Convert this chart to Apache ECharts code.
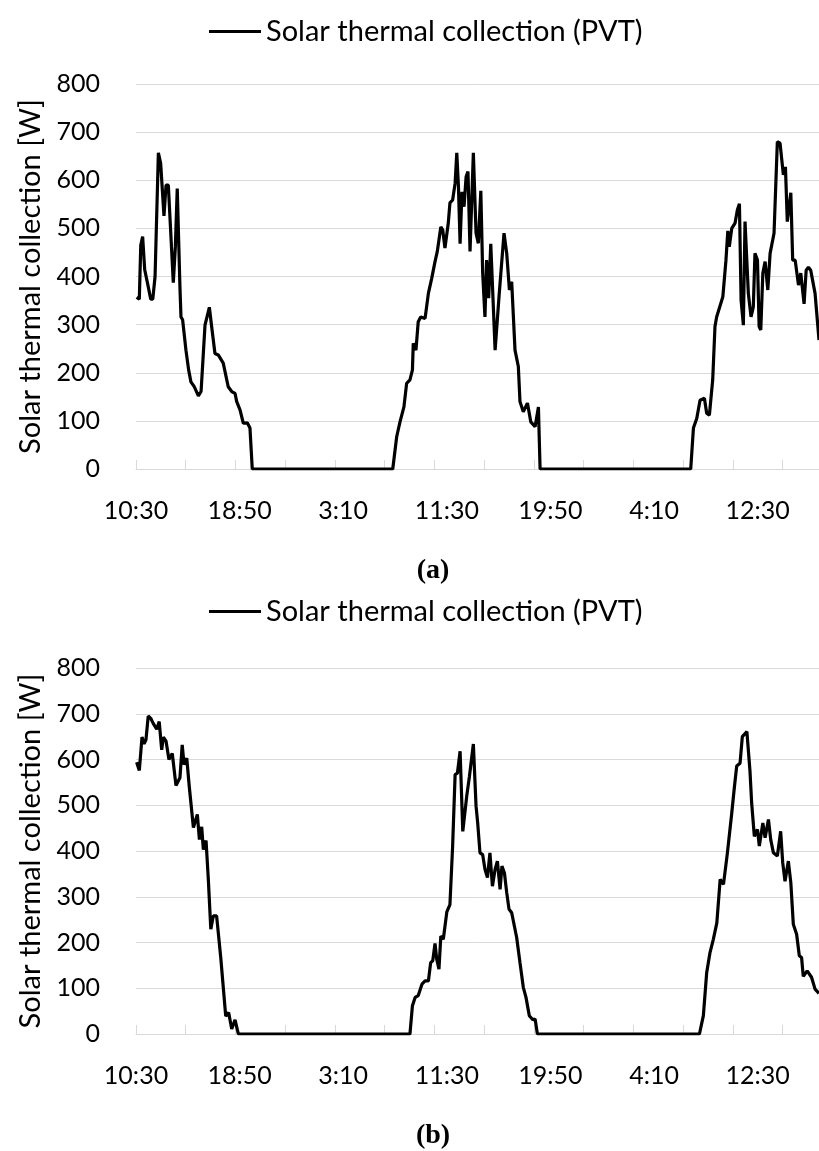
<!DOCTYPE html>
<html>
<head>
<meta charset="utf-8">
<script src="https://cdn.jsdelivr.net/npm/echarts@6/dist/echarts.min.js"></script>
<style>
html, body { margin: 0; padding: 0; background: #fff; }
#main { width: 819px; height: 1151px; }
</style>
</head>
<body>
<div id="main"></div>
<script>
// x = minutes after 10:30 on the first day, 10 min logging
var labelTimes = ['10:30', '18:50', '3:10', '11:30', '19:50', '4:10', '12:30'];
var labelStep = 500;
var tickStep = 240;
var xMax = 3296;
var seriesName = 'Solar thermal collection (PVT)';

// (a)
var minutesA = [3, 16, 23, 32, 42, 59, 71, 81, 92, 108, 119, 135, 145, 156, 180, 190, 199, 212, 217, 225,
  241, 254, 265, 281, 301, 314, 333, 354, 365, 381, 397, 421, 445, 462, 478, 486, 502, 518, 537, 550,
  561, 1239, 1258, 1274, 1293, 1306, 1322, 1334, 1338, 1351, 1362, 1374, 1395, 1411, 1427, 1443, 1454, 1471, 1480, 1491,
  1507, 1515, 1528, 1540, 1548, 1556, 1564, 1573, 1583, 1593, 1602, 1612, 1628, 1641, 1652, 1664, 1673, 1684, 1692, 1702,
  1712, 1733, 1753, 1776, 1789, 1802, 1813, 1829, 1845, 1853, 1869, 1889, 1905, 1926, 1942, 1950, 2677, 2690, 2706, 2722,
  2743, 2754, 2767, 2783, 2794, 2802, 2832, 2847, 2856, 2863, 2875, 2891, 2902, 2912, 2920, 2931, 2939, 2955, 2968, 2979,
  2987, 2999, 3007, 3015, 3025, 3036, 3049, 3060, 3079, 3095, 3108, 3124, 3134, 3143, 3160, 3169, 3181, 3197, 3208, 3224,
  3234, 3245, 3256, 3277, 3296];
var valuesA = [357, 353, 465, 483, 414, 379, 353, 353, 400, 657, 635, 526, 590, 590, 387, 462, 583, 379, 316, 310,
  247, 206, 181, 171, 152, 161, 299, 336, 296, 240, 237, 220, 171, 161, 157, 140, 123, 95, 96, 85,
  0, 0, 67, 98, 129, 178, 185, 206, 261, 247, 306, 316, 313, 365, 396, 431, 452, 503, 497, 459,
  511, 553, 559, 594, 657, 587, 468, 576, 545, 607, 618, 452, 657, 490, 469, 578, 407, 316, 434, 355,
  468, 247, 365, 490, 448, 372, 389, 247, 213, 140, 119, 137, 98, 88, 129, 0, 0, 85, 105, 143,
  147, 116, 112, 185, 296, 316, 358, 434, 495, 462, 500, 511, 538, 551, 351, 299, 514, 365, 316, 337,
  448, 434, 296, 289, 407, 431, 372, 448, 490, 680, 677, 611, 628, 514, 574, 434, 434, 382, 407, 343,
  413, 419, 413, 365, 268];

// (b)
var minutesB = [3, 16, 29, 39, 48, 59, 71, 83, 100, 112, 124, 132, 145, 159, 175, 193, 212, 223, 232, 245,
  257, 277, 296, 306, 317, 325, 338, 349, 361, 373, 389, 397, 409, 418, 433, 447, 462, 478, 494, 1322,
  1334, 1347, 1362, 1380, 1395, 1411, 1422, 1432, 1443, 1451, 1462, 1471, 1483, 1500, 1515, 1528, 1540, 1551, 1564, 1577,
  1584, 1596, 1609, 1617, 1628, 1641, 1649, 1660, 1673, 1684, 1696, 1708, 1720, 1733, 1744, 1757, 1766, 1778, 1789, 1800,
  1813, 1837, 1853, 1869, 1882, 1898, 1915, 1926, 1937, 2719, 2738, 2754, 2770, 2786, 2803, 2819, 2835, 2854, 2875, 2888,
  2899, 2915, 2926, 2948, 2963, 2971, 2984, 2999, 3008, 3025, 3036, 3052, 3063, 3076, 3095, 3111, 3121, 3132, 3148, 3160,
  3172, 3188, 3201, 3212, 3220, 3239, 3260, 3277, 3296];
var valuesB = [594, 576, 649, 634, 643, 695, 690, 679, 666, 683, 621, 649, 640, 600, 613, 543, 560, 632, 589, 603,
  541, 451, 480, 425, 453, 403, 423, 338, 229, 258, 258, 262, 167, 164, 39, 47, 11, 31, 0, 0,
  62, 80, 84, 109, 116, 116, 156, 160, 198, 164, 142, 214, 207, 267, 283, 411, 567, 570, 618, 443,
  440, 520, 563, 567, 634, 498, 461, 396, 392, 360, 342, 396, 323, 360, 378, 316, 367, 352, 309, 273,
  265, 211, 156, 102, 80, 40, 31, 33, 0, 0, 40, 134, 178, 207, 243, 338, 327, 396, 483, 541,
  586, 592, 650, 661, 574, 505, 432, 447, 411, 461, 429, 469, 425, 396, 389, 443, 374, 334, 378, 331,
  240, 218, 171, 167, 126, 138, 124, 98, 89];

function pairs(xs, ys) {
  return xs.map(function (x, i) { return [x, ys[i]]; });
}

var labelValues = labelTimes.map(function (t, i) { return i * labelStep; });
var tickValues = [];
for (var t = 0; t <= xMax; t += tickStep) tickValues.push(t);

var font = 'Lato';
var gridLine = '#d9d9d9';

function xAxisFor(gi) {
  return {
    type: 'value', gridIndex: gi, min: 0, max: xMax,
    axisLine: { show: true, lineStyle: { color: gridLine, width: 1 } },
    axisTick: { show: true, inside: true, length: 9, customValues: tickValues,
      lineStyle: { color: gridLine, width: 1 } },
    axisLabel: {
      customValues: labelValues, margin: 29,
      fontFamily: font, fontSize: 25, color: '#000',
      formatter: function (v) { return labelTimes[Math.round(v / labelStep)] || ''; }
    },
    splitLine: { show: false }
  };
}

function yAxisFor(gi) {
  return {
    type: 'value', gridIndex: gi, min: 0, max: 800, interval: 100,
    name: 'Solar thermal collection [W]', nameLocation: 'middle', nameGap: 86,
    nameTextStyle: { fontFamily: font, fontSize: 29, color: '#000' },
    axisLine: { show: false }, axisTick: { show: false },
    axisLabel: { margin: 36, fontFamily: font, fontSize: 25, color: '#000' },
    splitLine: { lineStyle: { color: gridLine, width: 1 } }
  };
}

function legendFor(top) {
  return {
    top: top, left: 209, padding: 0, icon: 'rect', itemWidth: 52, itemHeight: 3,
    data: [seriesName], selectedMode: false,
    textStyle: { fontFamily: font, fontSize: 29, color: '#000' }
  };
}

function panelTitle(letter, top) {
  return {
    text: '{n|(}{b|' + letter + '}{n|)}', left: 433, top: top, padding: 0, textAlign: 'center',
    textStyle: { rich: {
      n: { fontFamily: 'Liberation Serif', fontSize: 28, color: '#000' },
      b: { fontFamily: 'Liberation Serif', fontSize: 28, fontWeight: 'bold', color: '#000' }
    } }
  };
}

var lineStyle = { color: '#000', width: 3.2 };

var option = {
  animation: false,
  backgroundColor: '#fff',
  title: [panelTitle('a', 557), panelTitle('b', 1122)],
  legend: [legendFor(17), legendFor(597)],
  grid: [
    { left: 136, top: 84, height: 385, right: 0 },
    { left: 136, top: 668, height: 366, right: 0 }
  ],
  xAxis: [xAxisFor(0), xAxisFor(1)],
  yAxis: [yAxisFor(0), yAxisFor(1)],
  series: [
    { name: seriesName, type: 'line', xAxisIndex: 0, yAxisIndex: 0, showSymbol: false,
      color: '#000', lineStyle: lineStyle, data: pairs(minutesA, valuesA) },
    { name: seriesName, type: 'line', xAxisIndex: 1, yAxisIndex: 1, showSymbol: false,
      color: '#000', lineStyle: lineStyle, data: pairs(minutesB, valuesB) }
  ]
};

echarts.init(document.getElementById('main')).setOption(option);
</script>
</body>
</html>
